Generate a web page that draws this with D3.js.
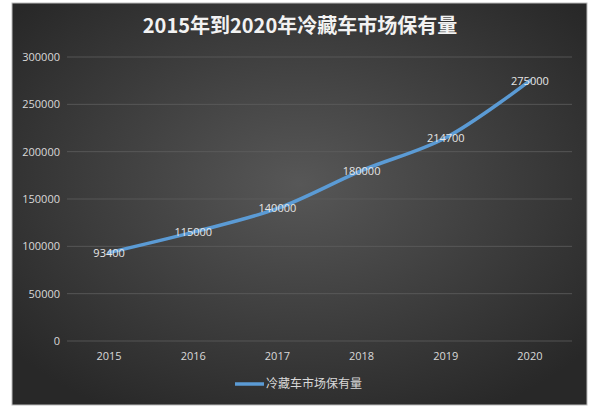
<!DOCTYPE html><html><head><meta charset="utf-8"><script src="https://cdn.jsdelivr.net/npm/d3@7"></script>
<style>body{margin:0;background:#fff}</style></head><body><svg id="c" width="600" height="413"></svg><script>
const years=["2015","2016","2017","2018","2019","2020"];
const values=[93400,115000,140000,180000,214700,275000];
const yTicks=[0,50000,100000,150000,200000,250000,300000];
const title="2015年到2020年冷藏车市场保有量";
const seriesName="冷藏车市场保有量";
const svg=d3.select("#c");
const defs=svg.append("defs");
const g=defs.append("radialGradient").attr("id","bg").attr("cx","50%").attr("cy","45%").attr("r","65%");
g.append("stop").attr("offset","0%").attr("stop-color","#575757");
g.append("stop").attr("offset","100%").attr("stop-color","#282828");
svg.append("rect").attr("x",12).attr("y",3).attr("width",575).attr("height",402).attr("fill","url(#bg)").attr("stroke","#bbb");
const f="'Open Sans','Noto Sans CJK SC',sans-serif";
svg.append("text").attr("x",300).attr("y",33).attr("text-anchor","middle").attr("fill","#f2f2f2").attr("font-size",20).attr("font-weight","bold").attr("font-family","'Noto Sans CJK SC',sans-serif").text(title);
const x=d3.scaleBand().domain(years).range([67,572]);
const y=d3.scaleLinear().domain([0,300000]).range([341,57]);
svg.append("g").selectAll("line").data(yTicks).join("line").attr("x1",67).attr("x2",572).attr("y1",d=>y(d)).attr("y2",d=>y(d)).attr("stroke","#5e5e5e").attr("stroke-width",0.8);
svg.append("g").selectAll("text").data(yTicks).join("text").attr("x",60).attr("y",d=>y(d)+4).attr("text-anchor","end").attr("fill","#d9d9d9").attr("font-size",11).attr("font-family",f).text(d=>d);
svg.append("g").selectAll("text").data(years).join("text").attr("x",d=>x(d)+x.bandwidth()/2).attr("y",360).attr("text-anchor","middle").attr("fill","#d9d9d9").attr("font-size",11).attr("font-family",f).text(d=>d);
const line=d3.line().x((d,i)=>x(years[i])+x.bandwidth()/2).y(d=>y(d)).curve(d3.curveCatmullRom.alpha(0.5));
svg.append("path").datum(values).attr("d",line).attr("fill","none").attr("stroke","#5b9bd5").attr("stroke-width",3.5).attr("stroke-linecap","round");
svg.append("g").selectAll("text").data(values).join("text").attr("x",(d,i)=>x(years[i])+x.bandwidth()/2).attr("y",d=>y(d)+4).attr("text-anchor","middle").attr("fill","#e6e6e6").attr("font-size",11).attr("font-family",f).text(d=>d);
svg.append("line").attr("x1",235).attr("x2",264).attr("y1",384).attr("y2",384).attr("stroke","#5b9bd5").attr("stroke-width",3.5);
svg.append("text").attr("x",266).attr("y",388).attr("fill","#d9d9d9").attr("font-size",12).attr("font-family","'Noto Sans CJK SC',sans-serif").text(seriesName);
</script></body></html>
